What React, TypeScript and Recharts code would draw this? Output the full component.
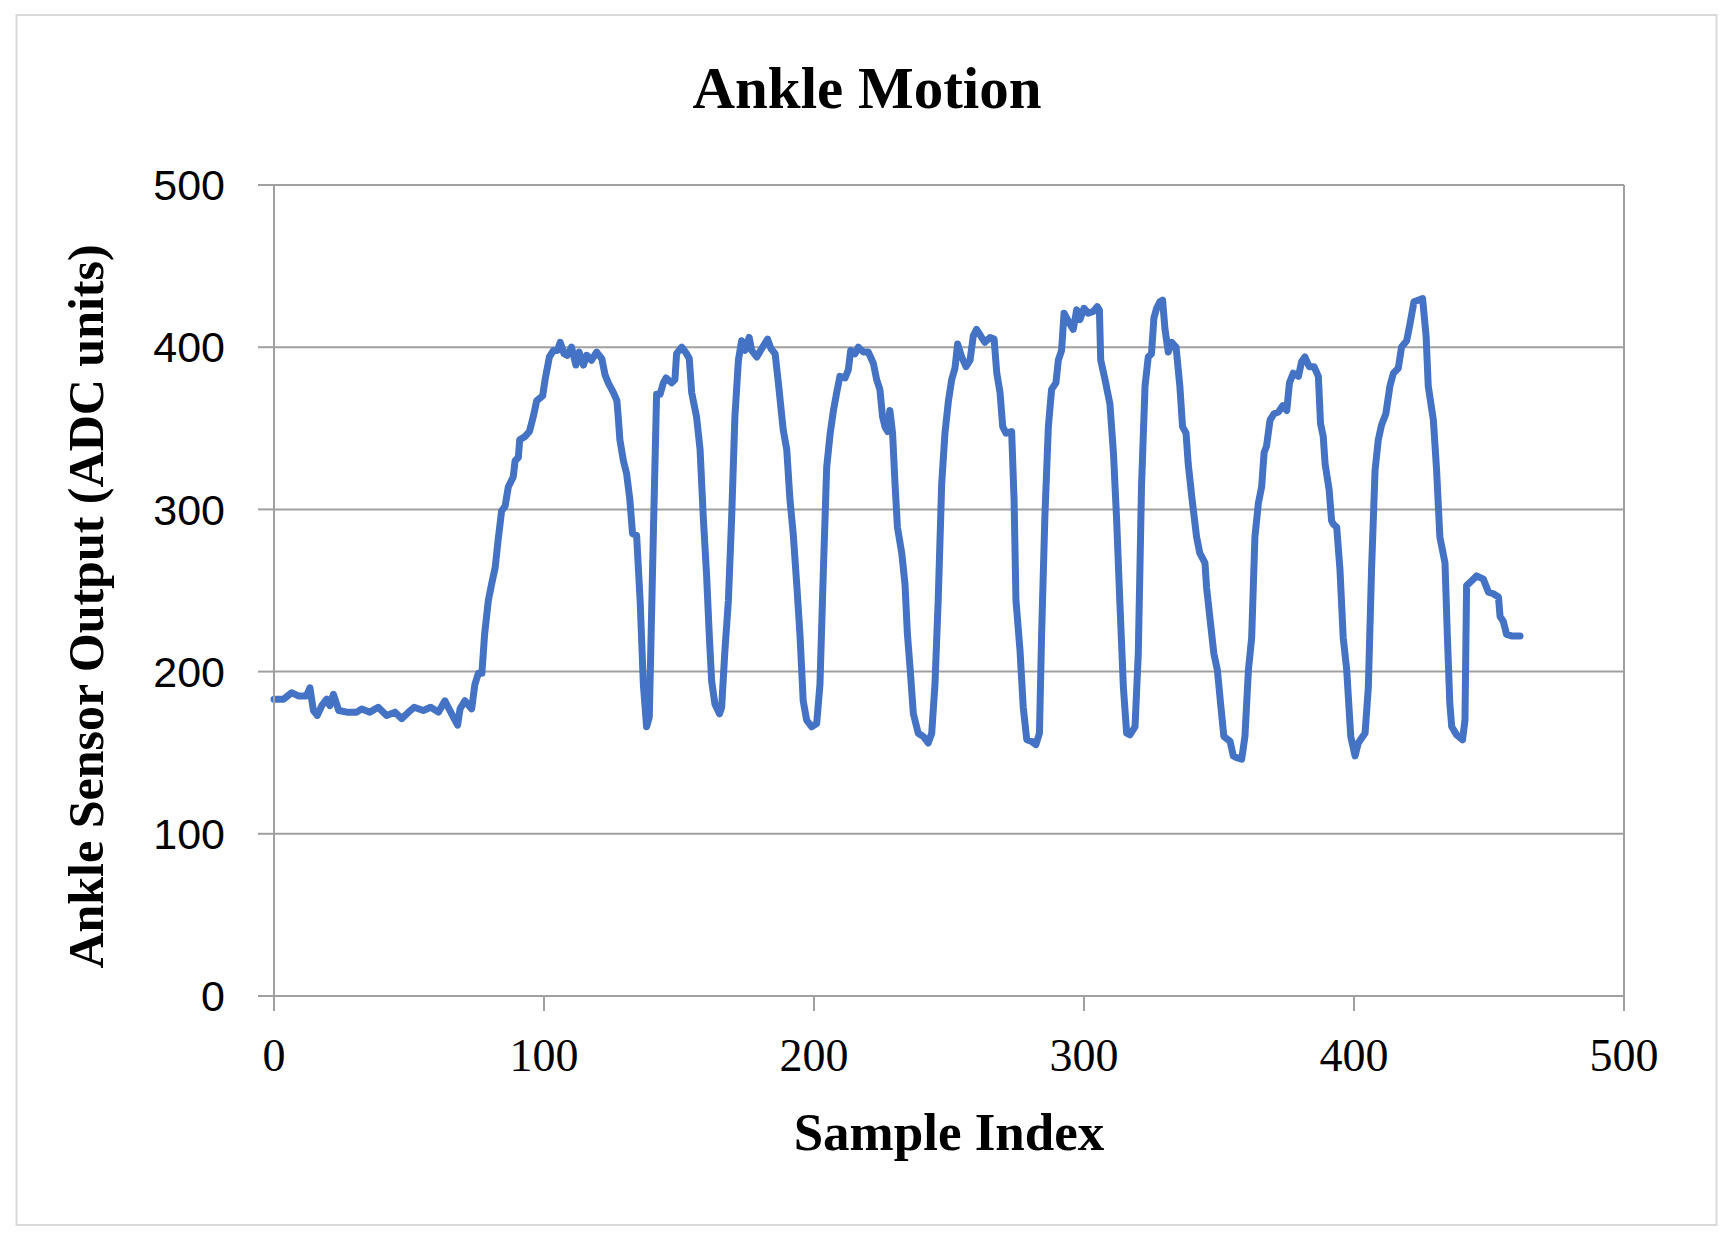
import { CartesianGrid, Label, Line, LineChart, ReferenceLine, XAxis, YAxis } from "recharts";

// sample index (x) and ADC reading (y)
const sampleIndex = [
  0, 1, 3.5, 6.5, 9, 12, 13.3, 14.6, 16, 17.7, 19.5, 20.7, 22, 24, 27, 30.6, 32.5, 35.5, 38.6, 41.7,
  44.8, 47.3, 49.8, 51.9, 55.3, 58, 60.9, 63.3, 65.8, 68, 68.9, 70.7, 73.2, 74.4, 75.7, 77, 78, 79.4,
  80.6, 81.9, 83, 84.3, 85.6, 86.8, 88.6, 89.3, 90.5, 91, 93, 94.6, 96, 97.3, 99.5, 100.4, 102, 103.5,
  105, 106, 107.4, 108.6, 110.2, 111.8, 113, 114.6, 115.8, 117.6, 119.5, 121.4, 122.6, 123.8, 125.7,
  127, 127.5, 128.1, 129.4, 130.6, 131.8, 132.8, 134.3, 135.6, 136.8, 138, 139, 140.5, 141.7, 143,
  144.2, 145.2, 147.3, 148.5, 149.1, 151, 152.8, 153.8, 154.7, 156.5, 157.8, 159, 160.2, 161.2, 162.1,
  163.3, 165, 165.8, 167, 168.3, 169.5, 170.7, 172, 173.2, 174.4, 176, 176.9, 178.8, 180.6, 182.8,
  184.1, 185.6, 186.8, 188.6, 189.9, 191.1, 192.3, 193.6, 194.8, 196, 197.3, 199.1, 201, 202.2, 203.5,
  204.7, 206, 207.2, 208.4, 209.6, 211.5, 212.7, 213.6, 215.2, 216.4, 218.3, 220.1, 222, 223.2, 224.4,
  225.4, 226.3, 227.3, 228.1, 229.1, 230, 230.9, 232.5, 233.7, 234.6, 235.6, 236.8, 238.6, 240.5,
  242.3, 243.6, 244.8, 246, 247.3, 248.5, 249.8, 251, 252.2, 253.2, 254.7, 256.3, 257.8, 259, 260.2,
  262.1, 263.3, 265.2, 266.7, 267.7, 268.9, 269.9, 271.1, 273.2, 274.1, 274.8, 276.3, 277.5, 278.8,
  280.6, 282.2, 283.5, 284.3, 285.5, 286.8, 288, 289.6, 290.5, 291.7, 292.6, 294.2, 296, 297.3, 298.5,
  300, 301.6, 303.4, 304.9, 305.7, 306.2, 307.8, 309.6, 310.9, 312.1, 313.3, 314.6, 315.8, 317, 318.9,
  320.1, 321.3, 322.6, 323.8, 325, 325.9, 326.9, 328.1, 329.1, 330, 331.2, 332.5, 334.1, 335.5, 336.5,
  337.8, 338.6, 339.9, 341.7, 342.9, 344.8, 345.4, 346.7, 348.1, 349.4, 350.6, 351.8, 354.1, 355.3,
  356.5, 358.4, 359.6, 360.9, 362.1, 363.3, 364.6, 365.8, 366.7, 367.6, 368.9, 370.4, 372, 373.6,
  375.1, 376.1, 377.5, 379.4, 380.6, 381.8, 383.4, 385.2, 386.8, 387.6, 388.6, 389.3, 390.8, 391.7,
  392.3, 393.6, 394.8, 396, 397.3, 398.8, 400.4, 401.6, 402.8, 404.1, 405.3, 406.5, 407.8, 409, 410.2,
  411.8, 413.3, 414.6, 416.4, 417.6, 419.5, 420.7, 422.2, 423.8, 425.4, 426.7, 427.5, 429.4, 430.6,
  431.8, 433.7, 434.6, 435.5, 436.2, 438, 440.2, 441.1, 441.7, 443.6, 445.4, 447.9, 449.8, 451.6,
  453.5, 454.1, 455.3, 456.5, 458.4, 461.5,
];

const sensorOutput = [
  183, 183, 183, 187, 185, 185, 190, 176, 173, 179, 183, 179, 186, 176, 175, 175, 177, 175, 178, 173,
  175, 171, 175, 178, 176, 178, 175, 182, 174, 167, 177, 182, 177, 192, 199, 199, 223, 244,
  254, 264, 281, 299, 302, 314, 320, 330, 332, 343, 345, 348, 357, 367, 370, 380, 394, 398,
  398, 403, 396, 395, 400, 389, 397, 389, 395, 392, 397, 393, 383, 378, 372,
  367, 357, 343, 330, 322, 306, 285, 284, 244, 192, 166, 172, 285, 371, 371,
  378, 381, 378, 380, 396, 400, 396, 393, 372, 357, 337, 295, 260, 223, 194,
  180, 174, 178, 213, 244, 295, 357, 392, 404, 398, 406, 398, 394, 399, 405,
  399, 396, 378, 349, 337, 306, 285, 254, 223, 182, 170, 166, 168, 192, 264,
  326, 347, 361, 372, 382, 381, 386, 398, 396, 400, 397, 397, 390, 380, 374,
  357, 351, 348, 361, 347, 316, 289, 273, 254, 223, 202, 174, 162, 160,
  156, 162, 192, 244, 316, 347, 367, 380, 387, 402, 394, 388, 392, 407, 411,
  406, 403, 406, 405, 384, 372, 351, 347, 348, 306, 244, 213, 178, 158,
  157, 155, 162, 223, 295, 351, 374, 378, 392, 398, 421, 416, 411, 423, 417,
  424, 421, 422, 425, 423, 392, 380, 365, 335, 293, 242, 190, 162, 161, 166,
  211, 314, 376, 394, 396, 418, 424, 428, 429, 411, 397, 403, 400, 376, 351,
  347, 328, 308, 283, 273, 267, 252, 232, 211, 201, 180, 160, 157, 148,
  147, 146, 160, 201, 221, 283, 304, 314, 335, 339, 355, 359, 360, 364,
  361, 378, 384, 382, 391, 394, 388, 388, 382, 353, 345, 328, 312, 293,
  291, 289, 263, 221, 201, 160, 148, 156, 159, 162, 190, 263, 324, 343, 352,
  359, 376, 384, 387, 400, 404, 414, 428, 429, 430, 407, 376, 355, 324,
  283, 267, 221, 180, 166, 161, 158, 170, 253, 256, 259, 257, 249, 248,
  246, 234, 231, 223, 222, 222,
];

const xTicks = [0, 100, 200, 300, 400, 500];
const yTicks = [0, 100, 200, 300, 400, 500];

const chartData = sampleIndex.map((sample, i) => ({ sample, value: sensorOutput[i] }));

const WIDTH = 1733;
const HEIGHT = 1242;
const GRID = "#a0a0a0";
const LINE = "#4472C4";
const SERIF = "'Liberation Serif', 'Times New Roman', serif";
const SANS = "'Liberation Sans', Arial, sans-serif";

function XTitle({ viewBox }: any) {
  const x = viewBox ? viewBox.x + viewBox.width / 2 : 949;
  const y = viewBox ? viewBox.y + 154 : 1150;
  return (
    <text x={x} y={y} textAnchor="middle" fontFamily={SERIF} fontWeight="bold" fontSize={53} fill="#000">
      Sample Index
    </text>
  );
}

function YTitle({ viewBox }: any) {
  const x = viewBox ? viewBox.x - 71 : 103;
  const y = viewBox ? viewBox.y + viewBox.height / 2 + 16 : 606;
  return (
    <text
      x={x}
      y={y}
      transform={`rotate(-90, ${x}, ${y})`}
      textAnchor="middle"
      fontFamily={SERIF}
      fontWeight="bold"
      fontSize={50}
      fill="#000"
    >
      Ankle Sensor Output (ADC units)
    </text>
  );
}

export default function App() {
  return (
    <div style={{ position: "absolute", left: 0, top: 0, width: WIDTH, height: HEIGHT, background: "#fff" }}>
      <LineChart
        width={WIDTH}
        height={HEIGHT}
        data={chartData}
        margin={{ top: 185, right: 109, bottom: 146, left: 174 }}
      >
        <CartesianGrid vertical={false} stroke={GRID} strokeWidth={2} />
        <XAxis
          type="number"
          dataKey="sample"
          domain={[0, 500]}
          ticks={xTicks}
          interval={0}
          height={100}
          tickSize={15}
          tickMargin={27}
          axisLine={{ stroke: GRID, strokeWidth: 2 }}
          tickLine={{ stroke: GRID, strokeWidth: 2 }}
          tick={{ fill: "#000", fontSize: 46, fontFamily: SERIF }}
        >
          <Label content={<XTitle />} />
        </XAxis>
        <YAxis
          type="number"
          domain={[0, 500]}
          ticks={yTicks}
          interval={0}
          width={100}
          tickSize={16}
          tickMargin={33}
          axisLine={{ stroke: GRID, strokeWidth: 2 }}
          tickLine={{ stroke: GRID, strokeWidth: 2 }}
          tick={{ fill: "#000", fontSize: 43, fontFamily: SANS }}
        >
          <Label content={<YTitle />} />
        </YAxis>
        <ReferenceLine x={500} stroke={GRID} strokeWidth={2} />
        <Line
          type="linear"
          dataKey="value"
          stroke={LINE}
          strokeWidth={7}
          strokeLinejoin="round"
          strokeLinecap="round"
          dot={false}
          activeDot={false}
          isAnimationActive={false}
        />
      </LineChart>
      <svg
        width={WIDTH}
        height={HEIGHT}
        style={{ position: "absolute", left: 0, top: 0, pointerEvents: "none" }}
      >
        <rect x={16.5} y={15} width={1700} height={1210} fill="none" stroke="#d9d9d9" strokeWidth={2} />
        <text x={867} y={108} textAnchor="middle" fontFamily={SERIF} fontWeight="bold" fontSize={59} fill="#000">
          Ankle Motion
        </text>
      </svg>
    </div>
  );
}
